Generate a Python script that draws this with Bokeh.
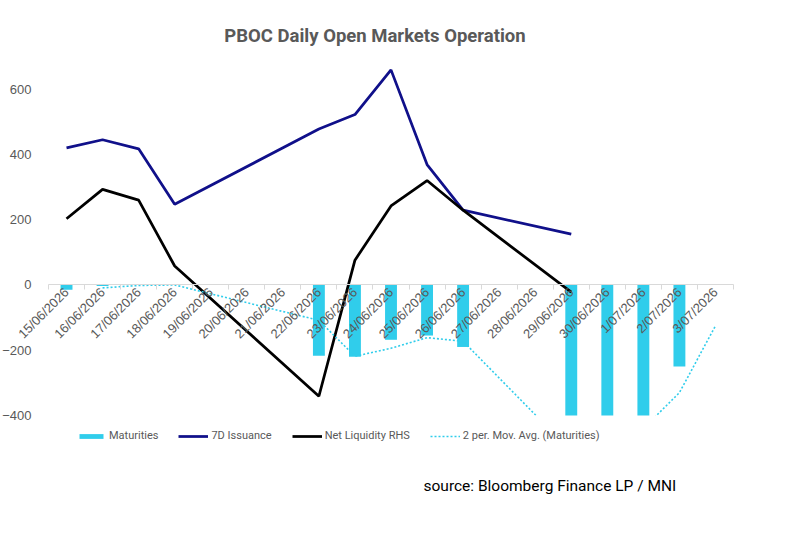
from math import pi, isnan

from bokeh.plotting import figure
from bokeh.models import (Range1d, LinearAxis, FixedTicker, SingleIntervalTicker,
                          Legend, LegendItem, Label, BoxAnnotation)
from bokeh.embed import file_html
from bokeh.resources import INLINE

nan = float("nan")

dates = ["15/06/2026", "16/06/2026", "17/06/2026", "18/06/2026", "19/06/2026",
         "20/06/2026", "21/06/2026", "22/06/2026", "23/06/2026", "24/06/2026",
         "25/06/2026", "26/06/2026", "27/06/2026", "28/06/2026", "29/06/2026",
         "30/06/2026", "1/07/2026", "2/07/2026", "3/07/2026"]

maturities = [-15, -3, 0, 0, nan, nan, nan, -217, -220, -168, -155, -190,
              nan, nan, -830, -470, -410, -250, 0]
issuance_7d = [420, 445, 417, 247, nan, nan, nan, 478, 522, 659, 369, 229,
               nan, nan, 156, nan, nan, nan, nan]
net_liquidity = [203, 293, 260, 58, nan, nan, nan, -341, 76, 242, 320, 229,
                 nan, nan, -22, nan, nan, nan, nan]

y_ticks_interval = 200
y_floor, y_ceiling = -400, 700

GREY = "#595959"
CYAN = "#30CDEB"
NAVY = "#10108A"
AXIS_FONT = "'Liberation Sans', Arial, sans-serif"

# canvas and plot-area geometry (pixels)
W, H = 787, 544
AREA_LEFT, AREA_RIGHT, AREA_TOP, AREA_BOTTOM = 48, 733, 56, 415

# each day occupies one unit slot; marks sit in the middle of the slot
centers = [i + 0.5 for i in range(len(dates))]
edges = list(range(len(dates) + 1))


def valid(xs, ys):
    """Keep only the days that carry a value (gaps are bridged like Excel)."""
    pairs = [(x, y) for x, y in zip(xs, ys) if not isnan(y)]
    return [p[0] for p in pairs], [p[1] for p in pairs]


bar_x, bar_top = valid(centers, maturities)
iss_x, iss_y = valid(centers, issuance_7d)
net_x, net_y = valid(centers, net_liquidity)

# 2-period moving average over the available maturity points
ma_x = bar_x[1:]
ma_y = [(bar_top[i - 1] + bar_top[i]) / 2 for i in range(1, len(bar_top))]

# the frame spans the whole canvas so titles and legend can live inside it;
# ranges are widened so the plot area keeps its place
px_x = (AREA_RIGHT - AREA_LEFT) / len(dates)
px_y = (AREA_BOTTOM - AREA_TOP) / (y_ceiling - y_floor)
x_range = Range1d(-AREA_LEFT / px_x, (W - AREA_LEFT) / px_x)
y_range = Range1d(y_floor - (H - AREA_BOTTOM) / px_y, y_ceiling + AREA_TOP / px_y)

p = figure(width=W, height=H, x_range=x_range, y_range=y_range,
           x_axis_location=None, y_axis_location=None,
           output_backend="svg", toolbar_location=None, min_border=0)
p.title.visible = False
p.outline_line_color = None
p.xgrid.visible = False
p.ygrid.visible = False
p.background_fill_color = "white"
p.border_fill_color = "white"

bars = p.vbar(x=bar_x, top=bar_top, bottom=0, width=0.33,
              fill_color=CYAN, line_color=None)
iss = p.line(iss_x, iss_y, line_color=NAVY, line_width=2.75)
net = p.line(net_x, net_y, line_color="black", line_width=2.75)
ma = p.line(ma_x, ma_y, line_color=CYAN, line_width=1.6, line_dash="2 2")

# the plot area ends at the value-axis floor: nothing is shown below it
p.add_layout(BoxAnnotation(top=y_floor, fill_color="white", fill_alpha=1,
                           line_color=None, level="glyph"))

# slot boundaries: axis line plus the small downward tick marks
edge_axis = LinearAxis(ticker=FixedTicker(ticks=edges, minor_ticks=[]),
                       fixed_location=0, bounds=(edges[0], edges[-1]),
                       axis_line_color="#D9D9D9",
                       major_tick_line_color="#D9D9D9", major_tick_in=0, major_tick_out=5,
                       minor_tick_line_color=None,
                       major_label_overrides={e: "" for e in edges},
                       major_label_text_font_size="1px")
p.add_layout(edge_axis, "below")

# day labels at the slot centres, rotated 45 degrees
date_axis = LinearAxis(ticker=FixedTicker(ticks=centers, minor_ticks=[]),
                       fixed_location=0,
                       axis_line_color=None, major_tick_line_color=None,
                       minor_tick_line_color=None,
                       major_tick_in=0, major_tick_out=0,
                       major_label_overrides=dict(zip(centers, dates)),
                       major_label_orientation=pi / 4,
                       major_label_standoff=5,
                       major_label_text_color=GREY,
                       major_label_text_font=AXIS_FONT,
                       major_label_text_font_size="13px")
p.add_layout(date_axis, "below")

# value axis pinned to the first slot boundary, labels only
y_axis = LinearAxis(ticker=SingleIntervalTicker(interval=y_ticks_interval),
                    fixed_location=edges[0], bounds=(y_floor, y_ceiling),
                    axis_line_color=None, major_tick_line_color=None,
                    minor_tick_line_color=None, major_tick_in=0, major_tick_out=0,
                    major_label_standoff=13,
                    major_label_text_color=GREY,
                    major_label_text_font=AXIS_FONT,
                    major_label_text_font_size="13px")
p.add_layout(y_axis, "left")

legend = Legend(items=[LegendItem(label="Maturities", renderers=[bars]),
                       LegendItem(label="7D Issuance", renderers=[iss]),
                       LegendItem(label="Net Liquidity RHS", renderers=[net]),
                       LegendItem(label="2 per. Mov. Avg. (Maturities)", renderers=[ma])],
                orientation="horizontal", location=(76, H - 442),
                padding=0, margin=0, spacing=20,
                glyph_width=30, glyph_height=6, label_height=12,
                label_standoff=3,
                label_text_font="Roboto", label_text_font_size="11px",
                label_text_color=GREY,
                border_line_color=None, background_fill_alpha=0)
p.add_layout(legend)

title = Label(x=374.5, y=H - 35, x_units="screen", y_units="screen",
              text="PBOC Daily Open Markets Operation",
              text_align="center", text_baseline="alphabetic",
              text_font="Roboto", text_font_style="bold",
              text_font_size="18.5px", text_color=GREY)
p.add_layout(title)

source_note = Label(x=423, y=H - 485, x_units="screen", y_units="screen",
                    text="source: Bloomberg Finance LP / MNI",
                    text_align="left", text_baseline="alphabetic",
                    text_font="Roboto", text_font_size="15.5px",
                    text_color="black")
p.add_layout(source_note)

open("out.html", "w").write(file_html(p, INLINE))
